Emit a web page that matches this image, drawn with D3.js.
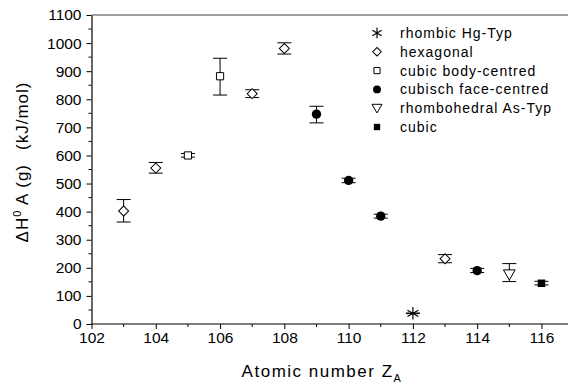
<!DOCTYPE html>
<html>
<head>
<meta charset="utf-8">
<script src="https://cdn.jsdelivr.net/npm/d3@7"></script>
<style>
  body { margin: 0; background: #fff; }
  svg { font-family: "Liberation Sans", Arial, sans-serif; }
</style>
</head>
<body>
<svg id="chart" width="568" height="388"></svg>
<script>
// atomic number, enthalpy and error-bar ends (kJ/mol), structure type
const atomicNumber = [103, 104, 105, 106, 107, 108, 109, 110, 111, 112, 113, 114, 115, 116];
const enthalpy     = [402, 555, 600, 882, 820, 981, 747, 511, 384, 38, 232, 190, 177, 145];
const errLow       = [363, 537, 594, 815, 806, 961, 716, 503, 377, 37, 218, 183, 151, 139];
const errHigh      = [443, 575, 607, 946, 834, 1001, 775, 519, 391, 39, 247, 198, 215, 152];
const structure    = ["hex", "hex", "bcc", "bcc", "hex", "hex", "fcc", "fcc", "fcc", "hg", "hex", "fcc", "as", "cubic"];

const legendKeys   = ["hg", "hex", "bcc", "fcc", "as", "cubic"];
const legendLabels = ["rhombic Hg-Typ", "hexagonal", "cubic body-centred", "cubisch face-centred", "rhombohedral As-Typ", "cubic"];
const yTicks = d3.range(0, 1101, 100);
const xTicks = d3.range(102, 117, 2);

const data = atomicNumber.map((z, i) => ({
  z, v: enthalpy[i], lo: errLow[i], hi: errHigh[i], type: structure[i]
}));

const svg = d3.select("#chart");
const margin = {left: 91.5, top: 15, bottom: 64};
const height = 388 - margin.top - margin.bottom;

const x = d3.scaleLinear().domain([102, 117]).range([margin.left, margin.left + 15 * 32.14]);
const y = d3.scaleLinear().domain([0, 1100]).range([margin.top + height, margin.top]);

// top frame line
svg.append("line")
  .attr("x1", margin.left).attr("x2", 568)
  .attr("y1", y(1100)).attr("y2", y(1100))
  .attr("stroke", "#444").attr("stroke-width", 1.2);

// minor ticks
const gMinor = svg.append("g").attr("stroke", "#000").attr("stroke-width", 1);
gMinor.selectAll(".mx").data(d3.range(103, 117, 2)).join("line")
  .attr("x1", d => x(d)).attr("x2", d => x(d))
  .attr("y1", y(0)).attr("y2", y(0) + 3);
gMinor.selectAll(".my").data(d3.range(50, 1100, 100)).join("line")
  .attr("x1", margin.left).attr("x2", margin.left - 3)
  .attr("y1", d => y(d)).attr("y2", d => y(d));

// axes
const xAxis = svg.append("g")
  .attr("transform", `translate(0,${y(0)})`)
  .call(d3.axisBottom(x).tickValues(xTicks).tickSize(5).tickPadding(3).tickSizeOuter(0));
const yAxis = svg.append("g")
  .attr("transform", `translate(${margin.left},0)`)
  .call(d3.axisLeft(y).tickValues(yTicks).tickFormat(d3.format("d")).tickSize(5).tickPadding(5).tickSizeOuter(0));
[xAxis, yAxis].forEach(g => {
  g.select(".domain").attr("stroke", "#000").attr("stroke-width", 1.2);
  g.selectAll(".tick line").attr("stroke", "#000");
  g.selectAll("text").attr("font-size", 15.5).attr("fill", "#000")
    .attr("font-family", "Liberation Sans, Arial, sans-serif");
});
xAxis.select(".domain").attr("d", `M${margin.left},0H568`);

// axis titles
svg.append("text")
  .attr("x", 322).attr("y", 377)
  .attr("text-anchor", "middle")
  .attr("font-size", 17).attr("letter-spacing", 1.5)
  .html('Atomic number Z<tspan dy="5" font-size="11">A</tspan>');

svg.append("text")
  .attr("transform", "translate(28,162) rotate(-90)")
  .attr("text-anchor", "middle")
  .attr("font-size", 17).attr("letter-spacing", 1)
  .html('ΔH<tspan dy="-7" font-size="11">0</tspan><tspan dy="7"> A (g)</tspan><tspan dx="14">(kJ/mol)</tspan>');

// marker shapes
function marker(sel, type, scale) {
  const s = scale || 1;
  if (type === "hex") {
    sel.append("path").attr("d", d3.symbol(d3.symbolSquare, 50 * s * s)())
      .attr("transform", "rotate(45)")
      .attr("fill", "#fff").attr("stroke", "#000").attr("stroke-width", 1);
  } else if (type === "bcc") {
    sel.append("path").attr("d", d3.symbol(d3.symbolSquare, 52 * s * s)())
      .attr("fill", "#fff").attr("stroke", "#000").attr("stroke-width", 1);
  } else if (type === "fcc") {
    sel.append("path").attr("d", d3.symbol(d3.symbolCircle, 68 * s * s)())
      .attr("fill", "#000");
  } else if (type === "as") {
    sel.append("path").attr("d", d3.symbol(d3.symbolTriangle, 60 * s * s)())
      .attr("transform", "rotate(180) translate(0,1)")
      .attr("fill", "#fff").attr("stroke", "#000").attr("stroke-width", 1);
  } else if (type === "cubic") {
    sel.append("path").attr("d", d3.symbol(d3.symbolSquare, 56 * s * s)())
      .attr("fill", "#000");
  } else if (type === "hg") {
    sel.append("path").attr("d", d3.symbol(d3.symbolAsterisk, 110 * s * s)())
      .attr("fill", "none").attr("stroke", "#000").attr("stroke-width", 1.2);
  }
}

// error bars
const eb = svg.append("g").attr("stroke", "#000").attr("stroke-width", 1);
data.forEach(d => {
  eb.append("line").attr("x1", x(d.z)).attr("x2", x(d.z)).attr("y1", y(d.lo)).attr("y2", y(d.hi));
  [d.lo, d.hi].forEach(v => {
    eb.append("line").attr("x1", x(d.z) - 7).attr("x2", x(d.z) + 7).attr("y1", y(v)).attr("y2", y(v));
  });
});

// points
data.forEach(d => {
  const g = svg.append("g").attr("transform", `translate(${x(d.z)},${y(d.v)})`);
  marker(g, d.type, 1);
});

// legend
const legend = svg.append("g");
legendKeys.forEach((k, i) => {
  const ly = 33 + i * 18.8;
  const g = legend.append("g").attr("transform", `translate(377,${ly})`);
  marker(g, k, 0.85);
  legend.append("text")
    .attr("x", 400).attr("y", ly + 5)
    .attr("font-size", 14).attr("letter-spacing", 1)
    .text(legendLabels[i]);
});
</script>
</body>
</html>
